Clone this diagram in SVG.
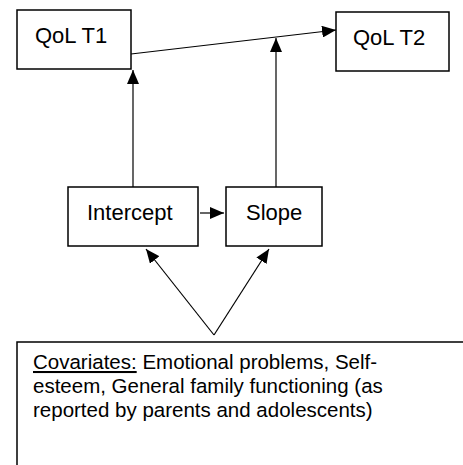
<svg xmlns="http://www.w3.org/2000/svg" width="463" height="465" viewBox="0 0 463 465">
<style>
.box{fill:#fff;stroke:#000;stroke-width:1.5}
.lbl{font-family:"Liberation Sans",Arial,sans-serif;font-size:22px;fill:#000}
.cov{font-family:"Liberation Sans",Arial,sans-serif;font-size:20.5px;fill:#000}
.con{stroke:#000;stroke-width:1.2;fill:none}
</style>
<defs>
<marker id="ah" markerUnits="userSpaceOnUse" markerWidth="14" markerHeight="12" viewBox="0 0 14 12" refX="14" refY="6" orient="auto">
<path d="M0,0 L14,6 L0,12 Z" fill="#000"/>
</marker>
</defs>
<rect width="463" height="465" fill="#fff"/>
<g id="connectors">
<line class="con" x1="131" y1="54" x2="336" y2="30" marker-end="url(#ah)"/>
<line class="con" x1="133" y1="187" x2="133" y2="70" marker-end="url(#ah)"/>
<line class="con" x1="276" y1="187" x2="276" y2="38" marker-end="url(#ah)"/>
<line class="con" x1="200" y1="213" x2="224" y2="213" marker-end="url(#ah)"/>
<line class="con" x1="214" y1="335" x2="146" y2="249" marker-end="url(#ah)"/>
<line class="con" x1="214" y1="335" x2="269" y2="249" marker-end="url(#ah)"/>
</g>
<g id="qol-t1">
<rect class="box" x="17" y="10" width="114" height="59"/>
<text class="lbl" x="35" y="43">QoL T1</text>
</g>
<g id="qol-t2">
<rect class="box" x="336" y="12" width="113" height="59"/>
<text class="lbl" x="353" y="45">QoL T2</text>
</g>
<g id="intercept">
<rect class="box" x="68" y="187" width="130" height="59"/>
<text class="lbl" x="87" y="220">Intercept</text>
</g>
<g id="slope">
<rect class="box" x="226" y="187" width="96" height="59"/>
<text class="lbl" x="246" y="220">Slope</text>
</g>
<g id="covariates">
<rect class="box" x="17" y="342" width="460" height="140"/>
<text class="cov" x="33" y="369"><tspan text-decoration="underline">Covariates:</tspan> Emotional problems, Self-</text>
<text class="cov" x="33" y="393">esteem, General family functioning (as</text>
<text class="cov" x="33" y="417">reported by parents and adolescents)</text>
</g>
</svg>
